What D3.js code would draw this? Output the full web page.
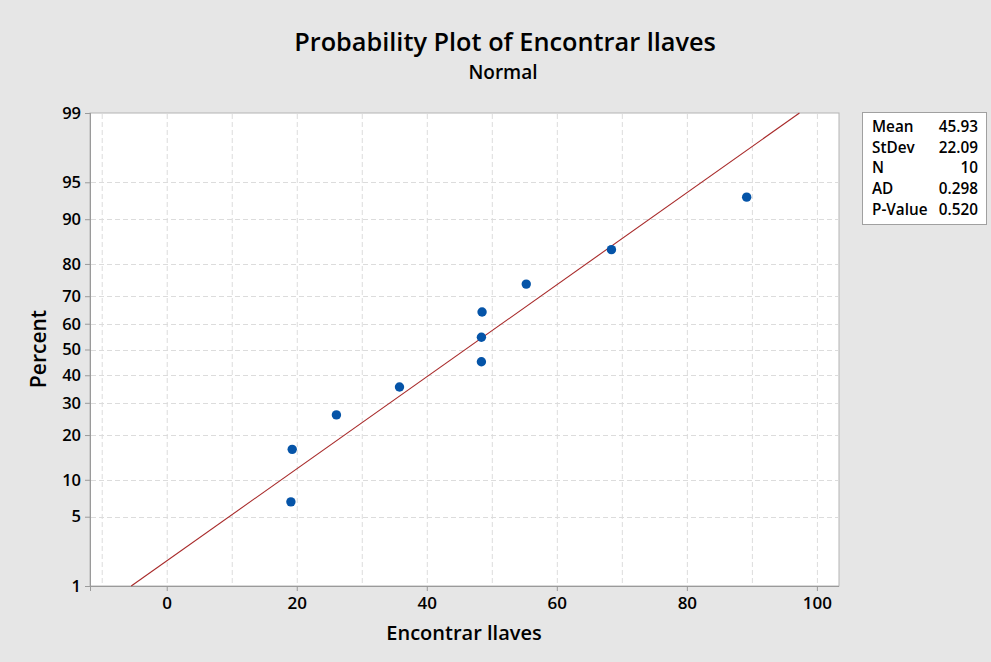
<!DOCTYPE html>
<html>
<head>
<meta charset="utf-8">
<script src="https://cdn.jsdelivr.net/npm/d3@7"></script>
<style>
  html, body { margin: 0; padding: 0; background: #e6e6e6; }
  svg { display: block; }
  text { font-family: "Open Sans", "Noto Sans", sans-serif; fill: #000; }
</style>
</head>
<body>
<script>
// ---- data ----
const xValues = [19.1, 19.3, 26.1, 35.8, 48.4, 48.4, 48.5, 55.3, 68.4, 89.2];
const percentValues = [6.7, 16.3, 26.0, 35.6, 45.2, 54.8, 64.4, 74.0, 83.7, 93.3];
const fitMean = [45.93];
const fitStDev = [22.09];
const xTicks = [0, 20, 40, 60, 80, 100];
const xGrid = [-10, 0, 10, 20, 30, 40, 50, 60, 70, 80, 90, 100];
const yTicks = [1, 5, 10, 20, 30, 40, 50, 60, 70, 80, 90, 95, 99];
const yGrid = [5, 10, 20, 30, 40, 50, 60, 70, 80, 90, 95];
const statLabels = ["Mean", "StDev", "N", "AD", "P-Value"];
const statValues = ["45.93", "22.09", "10", "0.298", "0.520"];

// inverse normal CDF (Acklam)
function probit(p) {
  const a = [-3.969683028665376e+01, 2.209460984245205e+02, -2.759285104469687e+02, 1.383577518672690e+02, -3.066479806614716e+01, 2.506628277459239e+00];
  const b = [-5.447609879822406e+01, 1.615858368580409e+02, -1.556989798598866e+02, 6.680131188771972e+01, -1.328068155288572e+01];
  const c = [-7.784894002430293e-03, -3.223964580411365e-01, -2.400758277161838e+00, -2.549732539343734e+00, 4.374664141464968e+00, 2.938163982698783e+00];
  const d = [7.784695709041462e-03, 3.224671290700398e-01, 2.445134137142996e+00, 3.754408661907416e+00];
  const pl = 0.02425, ph = 1 - pl;
  let q, r;
  if (p < pl) {
    q = Math.sqrt(-2 * Math.log(p));
    return (((((c[0]*q+c[1])*q+c[2])*q+c[3])*q+c[4])*q+c[5]) / ((((d[0]*q+d[1])*q+d[2])*q+d[3])*q+1);
  } else if (p <= ph) {
    q = p - 0.5; r = q*q;
    return (((((a[0]*r+a[1])*r+a[2])*r+a[3])*r+a[4])*r+a[5])*q / (((((b[0]*r+b[1])*r+b[2])*r+b[3])*r+b[4])*r+1);
  } else {
    q = Math.sqrt(-2 * Math.log(1 - p));
    return -(((((c[0]*q+c[1])*q+c[2])*q+c[3])*q+c[4])*q+c[5]) / ((((d[0]*q+d[1])*q+d[2])*q+d[3])*q+1);
  }
}

const W = 991, H = 662;
const plot = { left: 90, right: 839, top: 113, bottom: 586 };

const svg = d3.select("body").append("svg").attr("width", W).attr("height", H);
svg.append("rect").attr("width", W).attr("height", H).attr("fill", "#e6e6e6");

const x = d3.scaleLinear().domain([-11.8, 103.4]).range([plot.left, plot.right]);
const yz = d3.scaleLinear().domain([probit(0.01), probit(0.99)]).range([plot.bottom, plot.top]);
const y = p => yz(probit(p / 100));

// plot area
svg.append("rect")
  .attr("x", plot.left).attr("y", plot.top)
  .attr("width", plot.right - plot.left).attr("height", plot.bottom - plot.top)
  .attr("fill", "#fff").attr("stroke", "#b4b4b4").attr("stroke-width", 1);

// grid
const grid = svg.append("g").attr("stroke", "#dcdcdc").attr("stroke-width", 1).attr("stroke-dasharray", "5,3");
grid.selectAll("line.v").data(xGrid).join("line")
  .attr("x1", d => x(d) + 0.5).attr("x2", d => x(d) + 0.5)
  .attr("y1", plot.top + 1).attr("y2", plot.bottom - 1);
grid.selectAll("line.h").data(yGrid).join("line")
  .attr("y1", d => Math.round(y(d)) + 0.5).attr("y2", d => Math.round(y(d)) + 0.5)
  .attr("x1", plot.left + 1).attr("x2", plot.right - 1);

// axes
const xAxis = d3.axisBottom(x).tickValues(xTicks).tickSize(5).tickPadding(6).tickFormat(d3.format("d"));
const gx = svg.append("g").attr("transform", `translate(0,${plot.bottom})`).call(xAxis);
gx.select(".domain").attr("stroke", "#9a9a9a").attr("d", `M${plot.left - 5},0.5H${plot.right}`);
gx.selectAll(".tick line").attr("stroke", "#9a9a9a");
gx.selectAll(".tick text").attr("font-family", "Open Sans").attr("font-size", 17).attr("font-weight", 600).attr("fill", "#000");

const yAxis = d3.axisLeft(yz).tickValues(yTicks.map(p => probit(p / 100))).tickSize(5).tickPadding(4)
  .tickFormat((d, i) => yTicks[i]);
const gy = svg.append("g").attr("transform", `translate(${plot.left},0)`).call(yAxis);
gy.select(".domain").attr("stroke", "#9a9a9a").attr("d", `M0.5,${plot.top}V${plot.bottom + 5}`);
gy.selectAll(".tick line").attr("stroke", "#9a9a9a");
gy.selectAll(".tick text").attr("font-family", "Open Sans").attr("font-size", 16.5).attr("font-weight", 600).attr("fill", "#000");

// fitted line: x = mean + z * sd, from 1% to 99%
const fitPts = [1, 99].map(p => ({ x: fitMean[0] + probit(p / 100) * fitStDev[0], p }));
svg.append("path")
  .attr("d", d3.line().x(d => x(d.x)).y(d => y(d.p))(fitPts))
  .attr("stroke", "#a82a2a").attr("stroke-width", 1.1).attr("fill", "none");

// points
svg.append("g").selectAll("circle").data(xValues).join("circle")
  .attr("cx", d => x(d)).attr("cy", (d, i) => y(percentValues[i]))
  .attr("r", 4.7).attr("fill", "#0554a8");

// titles
svg.append("text").attr("x", 505).attr("y", 51).attr("text-anchor", "middle")
  .attr("font-size", 25.3).attr("font-weight", 600).text("Probability Plot of Encontrar llaves");
svg.append("text").attr("x", 503).attr("y", 79).attr("text-anchor", "middle")
  .attr("font-size", 19).attr("font-weight", 600).text("Normal");

// axis titles
svg.append("text").attr("x", 464).attr("y", 640).attr("text-anchor", "middle")
  .attr("font-size", 20).attr("font-weight", 600).text("Encontrar llaves");
svg.append("text").attr("transform", "translate(46,349) rotate(-90)").attr("text-anchor", "middle")
  .attr("font-size", 21).attr("font-weight", 600).text("Percent");

// stats box
const box = svg.append("g");
box.append("rect").attr("x", 862.5).attr("y", 112.5).attr("width", 124).attr("height", 112)
  .attr("fill", "#fff").attr("stroke", "#a0a0a0");
statLabels.forEach((lab, i) => {
  const by = 132 + i * 20.7;
  box.append("text").attr("x", 872).attr("y", by).attr("font-size", 15.3).attr("font-weight", 600).text(lab);
  box.append("text").attr("x", 978).attr("y", by).attr("text-anchor", "end").attr("font-size", 15.3).attr("font-weight", 600).text(statValues[i]);
});
</script>
</body>
</html>
